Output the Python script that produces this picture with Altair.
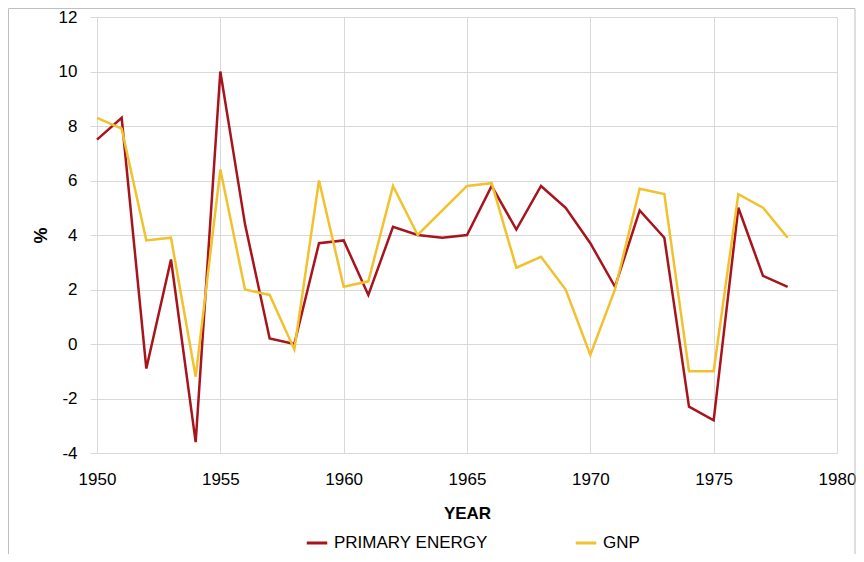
import altair as alt
import pandas as pd

years = list(range(1950, 1979))
primary_energy = [7.5, 8.3, -0.9, 3.1, -3.6, 10.0, 4.4, 0.2, 0.0, 3.7,
                  3.8, 1.8, 4.3, 4.0, 3.9, 4.0, 5.8, 4.2, 5.8, 5.0,
                  3.7, 2.1, 4.9, 3.9, -2.3, -2.8, 5.0, 2.5, 2.1]
gnp = [8.3, 7.9, 3.8, 3.9, -1.2, 6.4, 2.0, 1.8, -0.2, 6.0,
       2.1, 2.3, 5.8, 4.0, 4.9, 5.8, 5.9, 2.8, 3.2, 2.0,
       -0.4, 2.0, 5.7, 5.5, -1.0, -1.0, 5.5, 5.0, 3.9]
series_names = ["PRIMARY ENERGY", "GNP"]
series_colors = ["#A8141C", "#F2C12E"]
x_ticks = [1950, 1955, 1960, 1965, 1970, 1975, 1980]
y_ticks = [-4, -2, 0, 2, 4, 6, 8, 10, 12]

df = pd.DataFrame({
    "year": years * 2,
    "value": primary_energy + gnp,
    "series": [series_names[0]] * len(years) + [series_names[1]] * len(years),
})

FONT = "Liberation Sans"
GRID = "#d9d9d9"

lines = alt.Chart(df).mark_line(strokeWidth=2.5).encode(
    x=alt.X("year:Q",
            scale=alt.Scale(domain=[1950, 1980], nice=False, zero=False),
            axis=alt.Axis(values=x_ticks, format="d", title="YEAR",
                          tickSize=0, labelPadding=18, titlePadding=18,
                          labelFontSize=17, titleFontSize=17,
                          titleFontWeight="bold", labelColor="#000",
                          titleColor="#000", gridColor=GRID,
                          domainColor=GRID, labelFlush=False)),
    y=alt.Y("value:Q",
            scale=alt.Scale(domain=[-4, 12], nice=False),
            axis=alt.Axis(values=y_ticks, title="%", tickSize=7,
                          labelExpr="datum.value + ''",
                          tickColor=GRID, labelPadding=13, titlePadding=8,
                          labelFontSize=17, titleFontSize=18,
                          titleFontWeight="bold", labelColor="#000",
                          titleColor="#000", gridColor=GRID,
                          domainColor=GRID)),
    color=alt.Color("series:N",
                    scale=alt.Scale(domain=series_names, range=series_colors),
                    sort=series_names,
                    legend=alt.Legend(title=None, orient="none",
                                      direction="horizontal",
                                      legendX=208, legendY=514,
                                      symbolType="stroke", symbolSize=420,
                                      symbolStrokeWidth=3, labelFontSize=17,
                                      labelColor="#000", columnPadding=81,
                                      labelOffset=5, padding=0,
                                      labelLimit=300)),
)

frame = alt.Chart(pd.DataFrame({"k": [0]})).mark_rect(
    fill=None, stroke="#bfbfbf", strokeWidth=1
).encode(
    x=alt.value(-88.5), x2=alt.value(758),
    y=alt.value(-8.5), y2=alt.value(560),
)

chart = alt.layer(frame, lines).properties(
    width=740, height=436,
    autosize=alt.AutoSizeParams(type="none"),
    padding={"left": 89, "top": 9, "right": 19, "bottom": 101},
).configure(font=FONT).configure_view(stroke=None)

chart.save("out.html", embed_options={"renderer": "svg", "actions": False})
